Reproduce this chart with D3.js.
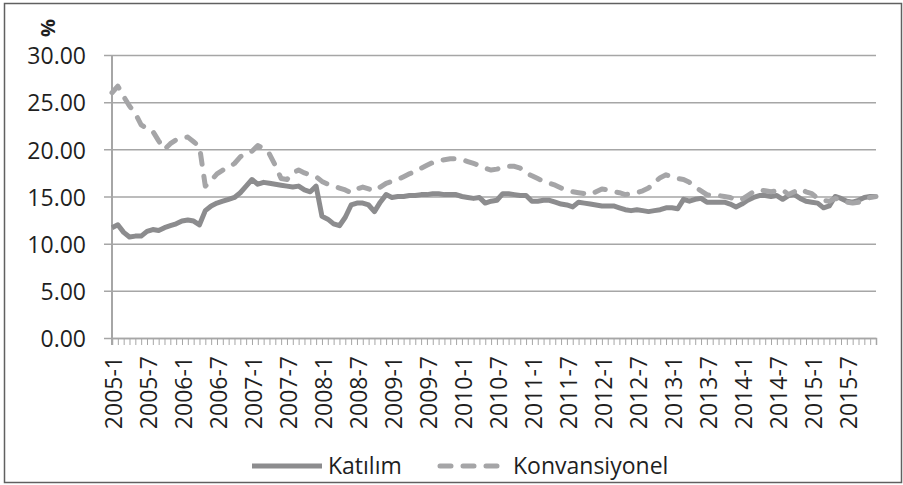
<!DOCTYPE html>
<html>
<head>
<meta charset="utf-8">
<script src="https://cdn.jsdelivr.net/npm/d3@7"></script>
<style>
  body { margin: 0; background: #fff; }
  text { font-family: "Open Sans", sans-serif; fill: #1f1f1f; }
</style>
</head>
<body>
<div id="chart"></div>
<script>
const years = [2005, 2006, 2007, 2008, 2009, 2010, 2011, 2012, 2013, 2014, 2015];
const months = [1, 2, 3, 4, 5, 6, 7, 8, 9, 10, 11, 12];
const categories = [];
years.forEach(yr => months.forEach(m => categories.push(yr + "-" + m)));

const tickLabels = ["2005-1", "2005-7", "2006-1", "2006-7", "2007-1", "2007-7", "2008-1", "2008-7",
  "2009-1", "2009-7", "2010-1", "2010-7", "2011-1", "2011-7", "2012-1", "2012-7",
  "2013-1", "2013-7", "2014-1", "2014-7", "2015-1", "2015-7"];
const yTicks = [0, 5, 10, 15, 20, 25, 30];

const katilim = [
  11.7, 12.0, 11.2, 10.7, 10.8, 10.8, 11.3, 11.5, 11.4, 11.7, 11.9, 12.1,
  12.4, 12.5, 12.4, 12.0, 13.5, 14.0, 14.3, 14.5, 14.7, 14.9, 15.4, 16.1,
  16.8, 16.3, 16.5, 16.4, 16.3, 16.2, 16.1, 16.0, 16.1, 15.7, 15.5, 16.1,
  12.9, 12.6, 12.1, 11.9, 12.8, 14.1, 14.3, 14.3, 14.1, 13.4, 14.4, 15.2,
  14.9, 15.0, 15.0, 15.1, 15.1, 15.2, 15.2, 15.3, 15.3, 15.2, 15.2, 15.2,
  15.0, 14.9, 14.8, 14.9, 14.3, 14.5, 14.6, 15.3, 15.3, 15.2, 15.1, 15.1,
  14.5, 14.5, 14.6, 14.6, 14.4, 14.2, 14.1, 13.9, 14.4, 14.3, 14.2, 14.1,
  14.0, 14.0, 14.0, 13.8, 13.6, 13.5, 13.6, 13.5, 13.4, 13.5, 13.6, 13.8,
  13.8, 13.7, 14.7, 14.5, 14.7, 14.8, 14.4, 14.4, 14.4, 14.4, 14.2, 13.9,
  14.2, 14.6, 14.9, 15.1, 15.1, 15.0, 15.1, 14.7, 15.1, 15.2, 14.8, 14.5,
  14.4, 14.3, 13.8, 14.0, 15.0, 14.8, 14.5, 14.4, 14.6, 14.9, 15.0, 15.0
];
const konvansiyonel = [
  26.0, 26.7, 25.6, 24.6, 23.8, 22.6, 22.2, 21.9, 20.9, 20.0, 20.6, 21.0,
  21.2, 21.3, 20.8, 20.3, 16.1, 16.7, 17.4, 17.8, 18.1, 18.5, 19.2, 19.6,
  19.8, 20.4, 20.1, 19.5, 18.3, 16.9, 16.8, 17.5, 17.8, 17.5, 17.3, 17.1,
  16.6, 16.3, 16.1, 15.9, 15.7, 15.4, 15.8, 16.0, 15.8, 15.6, 16.0, 16.4,
  16.6, 16.8, 17.1, 17.4, 17.7, 18.0, 18.3, 18.6, 18.8, 18.9, 19.0, 19.0,
  18.9, 18.7, 18.5, 18.3, 18.0, 17.8, 17.9, 18.1, 18.2, 18.2, 18.0, 17.5,
  17.2, 16.9, 16.6, 16.4, 16.2, 15.9, 15.7, 15.5, 15.4, 15.3, 15.2, 15.5,
  15.8, 15.7, 15.5, 15.4, 15.2, 15.3, 15.4, 15.6, 15.9, 16.5, 17.0, 17.3,
  17.1, 16.9, 16.8, 16.5, 16.0, 15.6, 15.2, 15.1, 15.1, 15.0, 14.9, 14.6,
  14.7, 15.1, 15.5, 15.7, 15.6, 15.5, 15.6, 15.7, 15.2, 15.5, 15.8, 15.5,
  15.3, 14.8, 14.6, 14.5, 14.8, 14.6, 14.4, 14.3, 14.4, 14.7, 14.9, 15.0
];

const series = [
  { name: "Katılım", values: katilim, color: "#8c8c8e", dash: null },
  { name: "Konvansiyonel", values: konvansiyonel, color: "#a5a5a7", dash: "11 12" }
];

const width = 903, height = 485;
const plotLeft = 112, plotRight = 876, plotTop = 55, plotBottom = 338;

const svg = d3.select("#chart").append("svg")
  .attr("width", width)
  .attr("height", height);

// outer frame
svg.append("rect")
  .attr("x", 4.5).attr("y", 3.5)
  .attr("width", 897).attr("height", 479)
  .attr("fill", "none")
  .attr("stroke", "#606060")
  .attr("stroke-width", 1.5);

const x = d3.scalePoint().domain(categories).range([plotLeft, plotRight]);
const y = d3.scaleLinear().domain([0, 30]).range([plotBottom, plotTop]);

// gridlines + y labels
const yAxis = d3.axisLeft(y)
  .tickValues(yTicks)
  .tickSize(0)
  .tickPadding(0)
  .tickFormat(d3.format(".2f"));

const gy = svg.append("g")
  .attr("transform", "translate(" + (plotLeft - 8) + ",0)")
  .call(yAxis);
gy.select(".domain").remove();
gy.selectAll(".tick line")
  .attr("x1", 0)
  .attr("x2", plotRight - plotLeft + 8)
  .attr("stroke", "#a6a6a6")
  .attr("stroke-width", 1.5);
gy.selectAll(".tick text")
  .attr("x", -18)
  .attr("dy", "0.38em")
  .style("font-size", "23px");

// vertical axis line
svg.append("line")
  .attr("x1", plotLeft).attr("x2", plotLeft)
  .attr("y1", plotTop).attr("y2", plotBottom + 7)
  .attr("stroke", "#a6a6a6")
  .attr("stroke-width", 2);

// x axis with ticks at every month
const xAxis = d3.axisBottom(x)
  .tickSize(7)
  .tickFormat(d => tickLabels.includes(d) ? d : "");

const gx = svg.append("g")
  .attr("transform", "translate(0," + plotBottom + ")")
  .call(xAxis);
gx.select(".domain")
  .attr("stroke", "#a6a6a6")
  .attr("stroke-width", 1.5);
gx.selectAll(".tick line")
  .attr("stroke", "#a6a6a6")
  .attr("stroke-width", 1);
gx.selectAll(".tick text")
  .style("font-size", "23px")
  .attr("text-anchor", "end")
  .attr("transform", "rotate(-90)")
  .attr("x", -18)
  .attr("y", 1)
  .attr("dy", "0.36em");

// axis title
svg.append("text")
  .attr("transform", "translate(48,28) rotate(-90)")
  .attr("text-anchor", "middle")
  .attr("dy", "0.35em")
  .style("font-size", "20px")
  .style("font-weight", "bold")
  .text("%");

// lines
const line = d3.line()
  .x((d, i) => x(categories[i]))
  .y(d => y(d));

series.forEach(s => {
  svg.append("path")
    .datum(s.values)
    .attr("d", line)
    .attr("fill", "none")
    .attr("stroke", s.color)
    .attr("stroke-width", 5)
    .attr("stroke-linejoin", "round")
    .attr("stroke-linecap", s.dash ? "round" : "butt")
    .attr("stroke-dasharray", s.dash);
});

// legend
const legend = [
  { x1: 252, x2: 322, tx: 328 },
  { x1: 440, x2: 500, tx: 513 }
];
series.forEach((s, i) => {
  const l = legend[i];
  svg.append("line")
    .attr("x1", l.x1).attr("x2", l.x2)
    .attr("y1", 466).attr("y2", 466)
    .attr("stroke", s.color)
    .attr("stroke-width", 5)
    .attr("stroke-linecap", s.dash ? "round" : "butt")
    .attr("stroke-dasharray", s.dash);
  svg.append("text")
    .attr("x", l.tx)
    .attr("y", 466)
    .attr("dy", "0.36em")
    .style("font-size", "23px")
    .text(s.name);
});
</script>
</body>
</html>
